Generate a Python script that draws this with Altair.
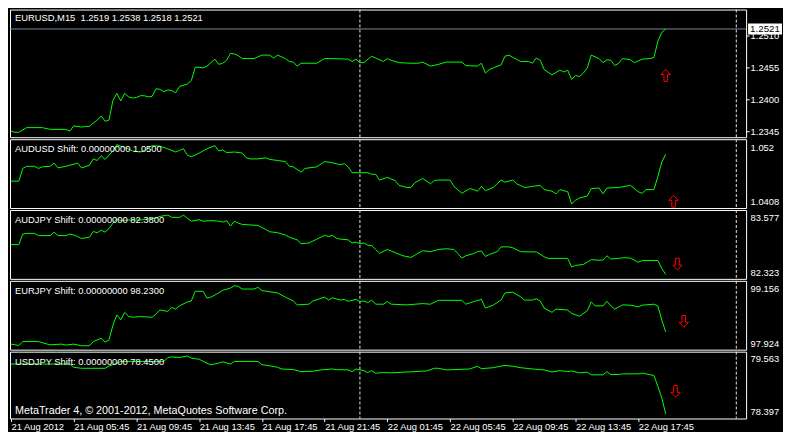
import altair as alt
import pandas as pd

FONT = "Liberation Sans"
FS = 9.4
W = 738
HEIGHTS = [128, 69, 69, 69, 67]
XDOM = [-0.25, 187.5]

# ---- time axis (bar index of M15 bars) ----
time_tick_bars = [0, 16, 32, 48, 64, 80, 96, 112, 128, 144, 160]
time_tick_labels = ["21 Aug 2012", "21 Aug 05:45", "21 Aug 09:45", "21 Aug 13:45",
                    "21 Aug 17:45", "21 Aug 21:45", "22 Aug 01:45", "22 Aug 05:45",
                    "22 Aug 09:45", "22 Aug 13:45", "22 Aug 17:45"]
separator_bars = [89, 185]

# ---- series: (bar, close) ----
eurusd = [(0,1.2345),(1,1.2343),(2,1.2343),(4,1.2351),(8,1.2351),(10,1.2348),(14,1.2348),(15,1.2345),
          (16,1.2354),(18,1.2352),(19,1.2353),(20,1.2353),(21,1.2359),(22,1.2364),(23,1.2371),(24,1.2362),
          (25,1.2364),(26,1.2398),(27,1.2410),(28,1.2397),(29,1.2410),(30,1.2404),(31,1.2402),(32,1.2403),
          (33,1.2406),(34,1.2406),(35,1.2404),(36,1.2405),(37,1.2418),(38,1.2417),(39,1.2413),(40,1.2416),
          (41,1.2415),(42,1.2411),(43,1.2422),(45,1.2426),(46,1.2432),(47,1.2455),(48,1.2455),(49,1.2454),
          (50,1.2457),(51,1.2463),(52,1.2469),(53,1.2460),(54,1.2462),(55,1.2467),(56,1.2479),(57,1.2478),
          (58,1.2475),(59,1.2470),(62,1.2470),(64,1.2476),(66,1.2476),(67,1.2471),(68,1.2476),(70,1.2470),
          (71,1.2465),(72,1.2464),(73,1.2457),(74,1.2462),(78,1.2462),(80,1.2470),(82,1.2470),(86,1.2469),
          (87,1.2465),(88,1.2469),(89,1.2463),(90,1.2463),(92,1.2474),(93,1.2471),(95,1.2465),(96,1.2470),
          (97,1.2467),(99,1.2463),(102,1.2462),(104,1.2462),(105,1.2464),(107,1.2457),(109,1.2460),
          (111,1.2464),(115,1.2464),(116,1.2458),(119,1.2457),(120,1.2462),(121,1.2445),(122,1.2451),
          (123,1.2454),(125,1.2459),(126,1.2474),(127,1.2476),(128,1.2472),(130,1.2465),(132,1.2465),
          (133,1.2462),(134,1.2471),(135,1.2467),(136,1.2451),(138,1.2442),(140,1.2450),(141,1.2447),
          (142,1.2450),(143,1.2434),(144,1.2441),(145,1.2439),(146,1.2445),(147,1.2454),(148,1.2476),
          (150,1.2470),(151,1.2463),(152,1.2468),(153,1.2467),(154,1.2458),(155,1.2462),(156,1.2470),
          (158,1.2468),(159,1.2463),(161,1.2469),(163,1.2470),(164,1.2472),(165,1.2500),(166,1.2515),
          (167,1.2521)]

audusd = [(0,1.0451),(2,1.0451),(3,1.0475),(4,1.0479),(6,1.0479),(7,1.0475),(8,1.0478),(10,1.0479),
          (11,1.0485),(12,1.0476),(14,1.0479),(17,1.0485),(18,1.0476),(20,1.0481),(21,1.0493),(22,1.0490),
          (23,1.0499),(24,1.0492),(25,1.0500),(26,1.0508),(27,1.0520),(28,1.0517),(29,1.0515),(31,1.0508),
          (33,1.0506),(34,1.0509),(36,1.0518),(38,1.0517),(40,1.0512),(42,1.0506),(43,1.0509),(44,1.0512),
          (45,1.0500),(46,1.0497),(48,1.0504),(50,1.0512),(52,1.0518),(53,1.0508),(54,1.0510),(55,1.0505),
          (57,1.0506),(59,1.0504),(60,1.0495),(61,1.0493),(63,1.0493),(65,1.0495),(66,1.0492),(68,1.0490),
          (70,1.0488),(71,1.0479),(72,1.0478),(74,1.0468),(75,1.0475),(78,1.0478),(80,1.0488),(81,1.0487),
          (83,1.0484),(84,1.0482),(85,1.0484),(86,1.0478),(87,1.0467),(91,1.0467),(92,1.0464),(93,1.0464),
          (94,1.0453),(96,1.0458),(97,1.0455),(98,1.0452),(99,1.0443),(101,1.0439),(102,1.0439),
          (103,1.0448),(105,1.0456),(107,1.0446),(108,1.0452),(109,1.0453),(112,1.0453),(113,1.0441),
          (115,1.0428),(117,1.0437),(118,1.0435),(119,1.0432),(120,1.0441),(121,1.0433),(123,1.0439),
          (125,1.0453),(126,1.0449),(128,1.0453),(129,1.0446),(131,1.0439),(133,1.0441),(135,1.0443),
          (136,1.0435),(138,1.0432),(139,1.0427),(140,1.0435),(142,1.0431),(143,1.0408),(144,1.0415),
          (145,1.0419),(147,1.0423),(148,1.0437),(150,1.0438),(151,1.0427),(152,1.0438),(155,1.0439),
          (158,1.0443),(160,1.0431),(161,1.0428),(162,1.0435),(164,1.0435),(165,1.0460),(166,1.0487),
          (167,1.0502)]

audjpy = [(0,82.953),(2,82.953),(3,83.177),(4,83.191),(6,83.191),(7,83.144),(10,83.144),(11,83.217),
          (12,83.144),(14,83.144),(15,83.177),(16,83.156),(17,83.124),(18,83.083),(20,83.110),(21,83.231),
          (22,83.205),(23,83.258),(24,83.217),(25,83.292),(26,83.408),(27,83.496),(28,83.461),(30,83.475),
          (33,83.475),(34,83.481),(37,83.516),(38,83.551),(40,83.577),(41,83.530),(43,83.530),(44,83.577),
          (45,83.510),(46,83.449),(48,83.481),(49,83.449),(51,83.461),(53,83.449),(54,83.429),(55,83.461),
          (56,83.347),(57,83.449),(58,83.408),(59,83.380),(63,83.360),(65,83.272),(66,83.225),(68,83.205),
          (70,83.156),(71,83.110),(73,83.055),(74,82.973),(76,82.988),(78,83.069),(80,83.150),(81,83.124),
          (82,83.150),(83,83.089),(84,83.069),(86,83.055),(87,82.988),(88,83.008),(89,82.973),(90,82.988),
          (91,82.941),(92,82.933),(93,82.851),(94,82.770),(96,82.851),(97,82.819),(98,82.784),(100,82.717),
          (102,82.683),(103,82.729),(105,82.825),(107,82.805),(109,82.851),(111,82.866),(113,82.851),
          (114,82.764),(115,82.669),(116,82.717),(118,82.764),(119,82.805),(120,82.819),(121,82.703),
          (122,82.744),(124,82.805),(125,82.906),(127,82.906),(128,82.886),(130,82.805),(132,82.799),
          (134,82.799),(136,82.697),(137,82.662),(139,82.662),(142,82.662),(143,82.480),(144,82.514),
          (146,82.534),(147,82.581),(148,82.636),(150,82.622),(151,82.628),(152,82.717),(153,82.648),
          (155,82.662),(156,82.677),(158,82.669),(160,82.581),(161,82.616),(163,82.616),(165,82.616),
          (166,82.450),(167,82.323)]

eurjpy = [(0,97.958),(2,97.930),(3,98.010),(7,98.010),(9,97.964),(10,97.944),(13,97.958),(14,97.938),
          (16,97.958),(18,97.924),(20,97.924),(21,98.010),(23,98.078),(24,97.998),(25,98.044),(26,98.343),
          (27,98.557),(28,98.457),(29,98.609),(30,98.529),(31,98.509),(33,98.523),(36,98.509),(37,98.577),
          (38,98.657),(39,98.643),(40,98.629),(41,98.709),(42,98.677),(43,98.743),(45,98.823),(46,98.843),
          (47,99.042),(49,99.042),(50,98.902),(51,98.922),(53,99.008),(54,99.062),(56,99.108),(57,99.156),
          (58,99.142),(59,99.088),(62,99.088),(63,99.122),(64,99.056),(68,99.008),(70,98.922),(72,98.843),
          (73,98.763),(76,98.777),(77,98.843),(80,98.922),(81,98.862),(82,98.908),(84,98.862),(85,98.876),
          (86,98.837),(88,98.876),(89,98.829),(90,98.843),(91,98.809),(92,98.862),(93,98.777),(95,98.777),
          (96,98.829),(97,98.777),(101,98.763),(105,98.789),(107,98.777),(109,98.856),(115,98.856),
          (116,98.777),(118,98.829),(120,98.876),(121,98.697),(123,98.757),(125,98.862),(126,99.008),
          (128,99.022),(130,98.928),(131,98.862),(133,98.862),(134,98.888),(135,98.843),(136,98.697),
          (138,98.609),(139,98.677),(142,98.657),(143,98.589),(145,98.529),(147,98.643),(148,98.823),
          (149,98.743),(151,98.743),(152,98.837),(153,98.743),(154,98.677),(156,98.763),(158,98.757),
          (160,98.723),(161,98.757),(164,98.777),(165,98.740),(166,98.450),(167,98.210)]

usdjpy = [(0,79.400),(8,79.400),(15,79.400),(16,79.335),(18,79.315),(24,79.315),(25,79.360),(27,79.414),
          (28,79.453),(39,79.453),(40,79.532),(41,79.543),(43,79.532),(45,79.563),(46,79.518),(48,79.498),
          (50,79.414),(51,79.386),(53,79.419),(54,79.445),(56,79.400),(57,79.453),(63,79.453),(64,79.386),
          (66,79.366),(68,79.335),(69,79.301),(72,79.288),(74,79.248),(77,79.256),(79,79.282),(82,79.301),
          (83,79.288),(86,79.282),(87,79.248),(88,79.301),(90,79.268),(91,79.229),(92,79.268),(93,79.217),
          (95,79.229),(97,79.223),(100,79.237),(103,79.248),(106,79.262),(108,79.315),(109,79.315),
          (111,79.282),(113,79.288),(117,79.301),(119,79.355),(120,79.307),(123,79.327),(126,79.374),
          (128,79.355),(130,79.327),(133,79.301),(136,79.282),(138,79.242),(140,79.268),(142,79.248),
          (143,79.262),(145,79.223),(147,79.237),(148,79.183),(151,79.183),(152,79.248),(153,79.189),
          (155,79.189),(156,79.203),(160,79.203),(161,79.217),(164,79.170),(165,78.950),(166,78.720),
          (167,78.397)]

titles = ["EURUSD,M15\u00a0 1.2519 1.2538 1.2518 1.2521",
          "AUDUSD Shift: 0.00000000 1.0500",
          "AUDJPY Shift: 0.00000000 82.3800",
          "EURJPY Shift: 0.00000000 98.2300",
          "USDJPY Shift: 0.00000000 78.4500"]
y_domains = [[1.23345, 1.25545], [1.04002, 1.05302], [82.2295, 83.685], [97.844, 99.256], [78.3046, 79.6495]]
y_ticks = [[1.2345, 1.2400, 1.2455, 1.2510], [1.0408, 1.052], [82.323, 83.577], [97.924, 99.156], [78.397, 79.563]]
y_mid = [1.24, 1.046, 83.0, 98.5, 79.0]
arrows = [(167, 1.2441, "up"), (169, 1.0413, "up"), (170, 82.540, "down"), (171.6, 98.423, "down"), (169.5, 78.849, "down")]
bid_price = 1.2521
copyright_text = "MetaTrader 4, \u00a9 2001-2012, MetaQuotes Software Corp."

UP = "M0,-1L0.8,-0.15L0.3,-0.15L0.3,1L-0.3,1L-0.3,-0.15L-0.8,-0.15Z"
DOWN = "M0,1L0.8,0.15L0.3,0.15L0.3,-1L-0.3,-1L-0.3,0.15L-0.8,0.15Z"
BOX = "M-1,-0.33L1,-0.33L1,0.33L-1,0.33Z"


def make_panel(k, series):
    first = k == 0
    last = k == 4
    h = HEIGHTS[k]
    df = pd.DataFrame(series, columns=["bar", "value"])
    if last:
        label_expr = "[" + ",".join("'%s'" % t for t in time_tick_labels) + "][round(datum.value / 16)]"
        xaxis = alt.Axis(values=time_tick_bars, labelExpr=label_expr, labelAlign="left",
                         labelBaseline="top", labelPadding=1, tickSize=3, tickColor="white",
                         labelColor="white", labelFont=FONT, labelFontSize=FS, domain=False,
                         grid=False, labelOverlap=False, labelFlush=False, title=None)
    else:
        xaxis = None
    x = alt.X("bar:Q", scale=alt.Scale(domain=XDOM, nice=False, zero=False), axis=xaxis)
    common = dict(orient="right", values=y_ticks[k], labelColor="white", labelFont=FONT,
                  labelFontSize=FS, domain=False, grid=False, title=None, labelOverlap=False,
                  labelBaseline="middle", tickSize=3, labelPadding=1)
    if first:
        yaxis = alt.Axis(format=".4f", tickColor="white", **common)
    else:
        yaxis = alt.Axis(format=".5~g", tickOpacity=0,
                         labelOffset={"condition": {"test": "datum.value > %s" % y_mid[k], "value": 2.5},
                                      "value": -2},
                         **common)
    y = alt.Y("value:Q", scale=alt.Scale(domain=y_domains[k], nice=False, zero=False), axis=yaxis)

    layers = []
    layers.append(alt.Chart(pd.DataFrame({"bar": separator_bars})).mark_rule(
        color="#E6E6E6", strokeDash=[3, 2], strokeWidth=1).encode(x=x))
    if first:
        layers.append(alt.Chart(pd.DataFrame({"value": [bid_price]})).mark_rule(
            color="#778899", strokeWidth=1).encode(y=y))
    layers.append(alt.Chart(df).mark_line(color="#00FF00", strokeWidth=1).encode(x=x, y=y))
    ab, av, ad = arrows[k]
    layers.append(alt.Chart(pd.DataFrame({"bar": [ab], "value": [av]})).mark_point(
        shape=UP if ad == "up" else DOWN, size=140, filled=False, color="#FF0000",
        strokeWidth=1, opacity=1).encode(x=x, y=y))
    layers.append(alt.Chart(pd.DataFrame({"t": [titles[k]]})).mark_text(
        align="left", baseline="middle", color="white", font=FONT, fontSize=FS).encode(
        x=alt.value(5), y=alt.value(8.5 if first else 10), text="t:N"))
    if first:
        bdf = pd.DataFrame({"value": [bid_price], "label": ["%.4f" % bid_price]})
        layers.append(alt.Chart(bdf).mark_point(shape=BOX, size=1156, filled=True, color="white",
                                                opacity=1, strokeWidth=0).encode(
            x=alt.value(W + 19), y=y))
        layers.append(alt.Chart(bdf).mark_text(color="black", align="center", baseline="middle",
                                               font=FONT, fontSize=FS + 0.4).encode(
            x=alt.value(W + 19), y=y, text="label:N"))
    if last:
        layers.append(alt.Chart(pd.DataFrame({"t": [copyright_text]})).mark_text(
            align="left", baseline="middle", color="white", font=FONT, fontSize=10.8).encode(
            x=alt.value(5), y=alt.value(h - 8), text="t:N"))
    return alt.layer(*layers).properties(width=W, height=h)


panels = [make_panel(k, s) for k, s in enumerate([eurusd, audusd, audjpy, eurjpy, usdjpy])]

chart = alt.vconcat(*panels, spacing=2, bounds="flush").properties(
    padding=0, background="#000000"
).configure_view(stroke="#FFFFFF", strokeWidth=1)

chart.save("out.html", embed_options={"renderer": "svg", "actions": False})
